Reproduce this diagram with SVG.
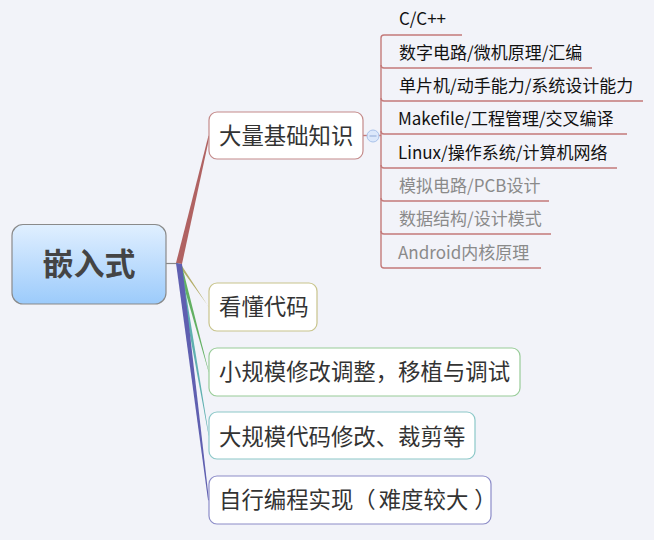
<svg xmlns="http://www.w3.org/2000/svg" width="654" height="540" viewBox="0 0 654 540">
<defs>
<linearGradient id="rootGrad" x1="0" y1="0" x2="0" y2="1">
<stop offset="0" stop-color="#e0efff"/>
<stop offset="1" stop-color="#9ccbfb"/>
</linearGradient>
<style>
text{font-family:"Noto Sans CJK SC","Noto Sans",sans-serif;}
.node{fill:#ffffff;stroke-width:1.2;}
.ntext{font-size:22.4px;fill:#333333;}
.sub{font-size:17px;fill:#111111;}
.subg{font-size:17px;fill:#8a8a8a;}
.tree{fill:none;stroke:#c47a7a;stroke-width:1.4;}
</style>
</defs>
<rect x="0" y="0" width="654" height="540" fill="#f2f3f9"/>
<g id="connectors">
<line x1="166" y1="263.5" x2="177" y2="263.5" stroke="#888888" stroke-width="1.2"/>
<polygon points="176,263 182,264 209.5,136.5 208.5,135.5" fill="#b06262"/>
<polygon points="177,263 182,266 209,307.5 208.5,306.5" fill="#b4ae6a"/>
<polygon points="177,263 182,266 209,372.5 208.5,371.5" fill="#62b062"/>
<polygon points="176.5,263 181.5,266 209,436 208.5,435" fill="#5fb0b0"/>
<polygon points="176,263 182,264 209,500.5 208,500" fill="#5f5fb0"/>
<path class="tree" d="M363 135.5 H381"/>
<path class="tree" d="M381 38 V265"/>
<path class="tree" d="M381 38 Q381 35 384 35 H462"/>
<path class="tree" d="M381 65 Q381 68 384 68 H592"/>
<path class="tree" d="M381 98 Q381 101 384 101 H643"/>
<path class="tree" d="M381 131 Q381 134 384 134 H627"/>
<path class="tree" d="M381 165 Q381 168 384 168 H617"/>
<path class="tree" d="M381 198 Q381 201 384 201 H549"/>
<path class="tree" d="M381 231 Q381 234 384 234 H551"/>
<path class="tree" d="M381 265 Q381 268 384 268 H541"/>
</g>
<g id="root">
<rect x="12" y="224.5" width="154" height="79.5" rx="11" fill="url(#rootGrad)" stroke="#8a8a8a" stroke-width="1.2"/>
<text x="89" y="275" text-anchor="middle" font-size="31" font-weight="bold" fill="#444444">嵌入式</text>
</g>
<g id="node1">
<rect class="node" x="209" y="112" width="154" height="47" rx="8" stroke="#c48a8a"/>
<text class="ntext" x="219" y="144">大量基础知识</text>
<circle cx="373" cy="136" r="6" fill="#dce8fb" stroke="#a9c2ea" stroke-width="1"/>
<line x1="369.5" y1="136" x2="376.5" y2="136" stroke="#8fa9d6" stroke-width="1"/>
</g>
<g id="node2">
<rect class="node" x="209" y="283" width="108" height="48" rx="8" stroke="#c8c48c"/>
<text class="ntext" x="219" y="315">看懂代码</text>
</g>
<g id="node3">
<rect class="node" x="209" y="348" width="311" height="48" rx="8" stroke="#98cc98"/>
<text class="ntext" x="219" y="380">小规模修改调整，移植与调试</text>
</g>
<g id="node4">
<rect class="node" x="209" y="412" width="266" height="47" rx="8" stroke="#8cc8c8"/>
<text class="ntext" x="219" y="445">大规模代码修改、裁剪等</text>
</g>
<g id="node5">
<rect class="node" x="209" y="476" width="282" height="48" rx="8" stroke="#8c8cc8"/>
<text class="ntext" x="219" y="508">自行编程实现（<tspan dx="3">难度较大</tspan><tspan dx="6">）</tspan></text>
</g>
<g id="sub1"><text class="sub" x="399" y="25">C/C++</text></g>
<g id="sub2"><text class="sub" x="399" y="59">数字电路/微机原理/汇编</text></g>
<g id="sub3"><text class="sub" x="399" y="92">单片机/动手能力/系统设计能力</text></g>
<g id="sub4"><text class="sub" x="398" y="125">Makefile/工程管理/交叉编译</text></g>
<g id="sub5"><text class="sub" x="398" y="159">Linux/操作系统/计算机网络</text></g>
<g id="sub6"><text class="subg" x="399" y="192">模拟电路/PCB设计</text></g>
<g id="sub7"><text class="subg" x="399" y="225">数据结构/设计模式</text></g>
<g id="sub8"><text class="subg" x="398" y="259">Android内核原理</text></g>
</svg>
